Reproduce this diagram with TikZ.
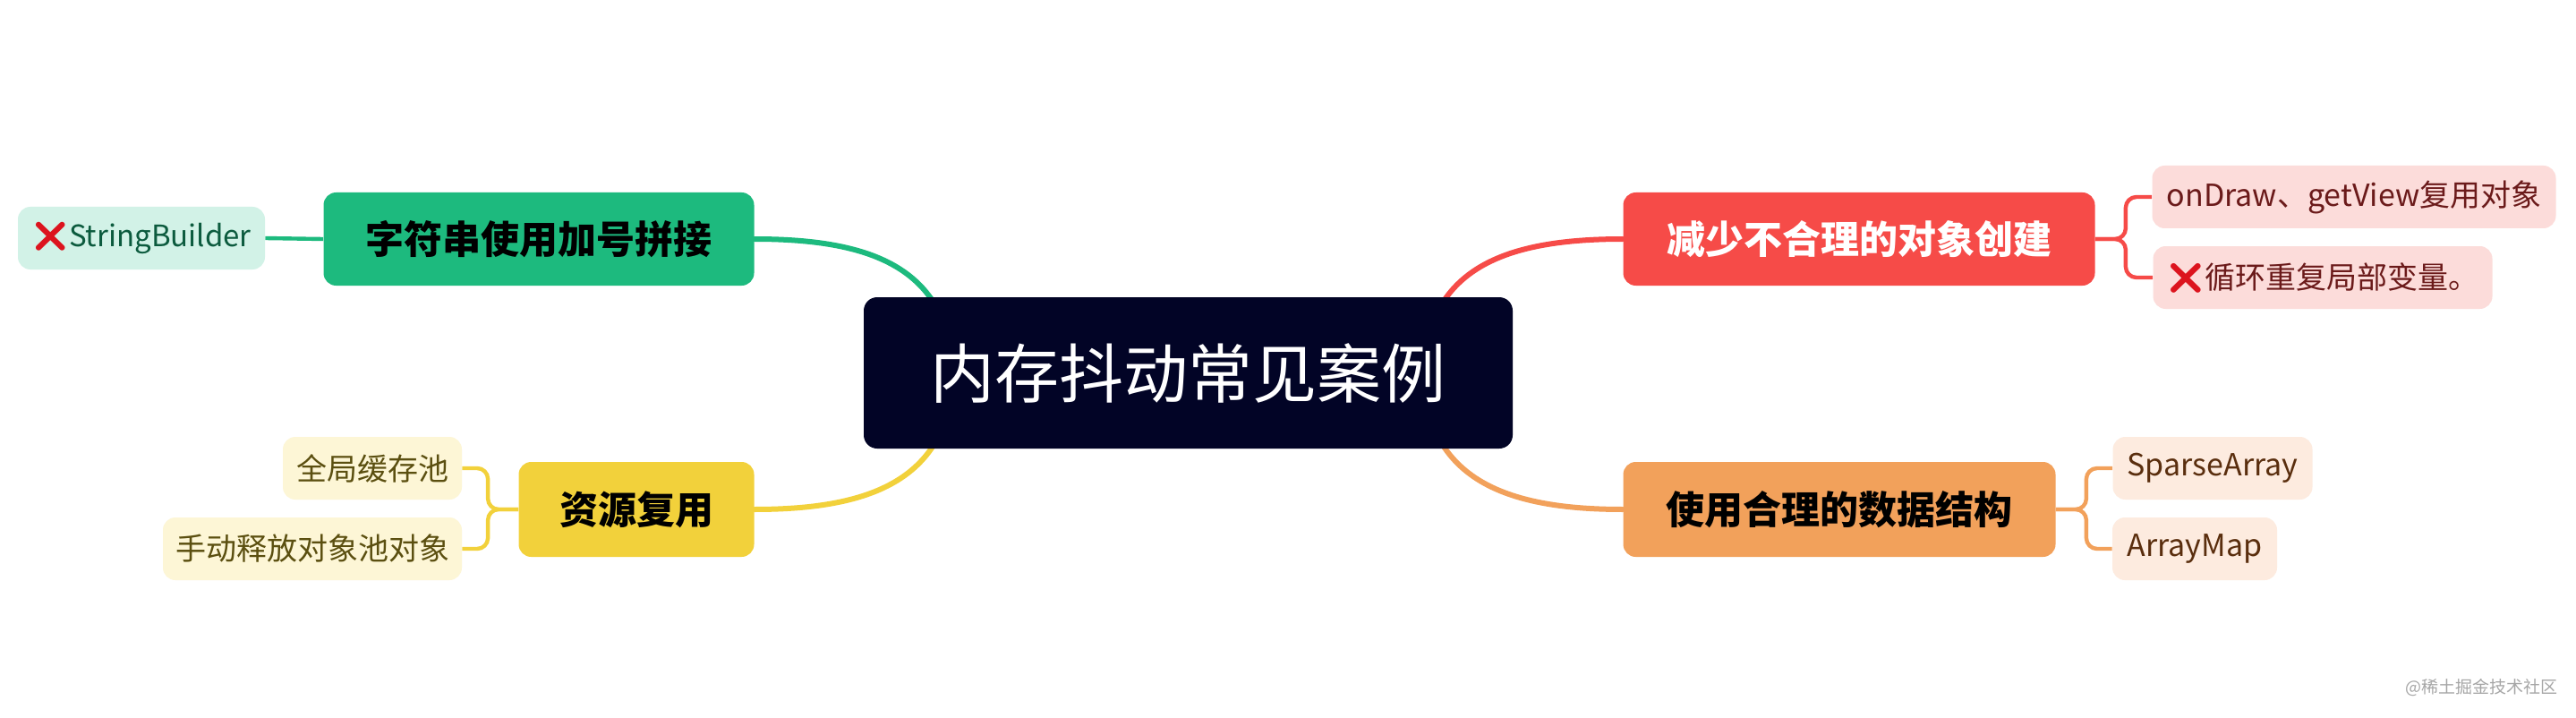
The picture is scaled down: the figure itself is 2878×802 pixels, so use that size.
\documentclass[tikz,border=0pt]{standalone}
\usepackage{fontspec}
\setmainfont{Noto Sans CJK SC}
\newfontfamily\emojifont{Noto Emoji}
\usetikzlibrary{backgrounds}
\pgfdeclarelayer{canvas}
\pgfsetlayers{canvas,background,main}
\definecolor{cnavy}{RGB}{2,4,38}
\definecolor{cgreen}{RGB}{29,186,126}
\definecolor{cgreenL}{RGB}{210,242,231}
\definecolor{cgreenT}{RGB}{12,91,62}
\definecolor{cyellow}{RGB}{242,209,59}
\definecolor{cyellowL}{RGB}{253,246,214}
\definecolor{cyellowT}{RGB}{91,79,16}
\definecolor{cred}{RGB}{246,75,72}
\definecolor{credL}{RGB}{252,220,218}
\definecolor{credT}{RGB}{107,26,26}
\definecolor{corange}{RGB}{242,161,91}
\definecolor{corangeL}{RGB}{253,235,223}
\definecolor{corangeT}{RGB}{90,46,14}
\definecolor{cxmark}{RGB}{220,20,30}
\newcommand{\xmark}{{\emojifont\color{cxmark}❌}}
\tikzset{
  rootbox/.style={fill=cnavy, rounded corners=7.5pt, inner sep=0pt, text=white, font=\fontsize{36}{40}\selectfont, minimum width=362.5pt, minimum height=84.5pt},
  mainbox/.style={rounded corners=7pt, inner sep=0pt, font=\fontsize{21.5}{24}\selectfont\bfseries, minimum height=52pt},
  leafbox/.style={rounded corners=7pt, inner sep=0pt, font=\fontsize{17}{19}\selectfont, minimum height=35pt},
  mainline/.style={line width=3pt, line cap=round},
  leafline/.style={line width=2.2pt, rounded corners=6pt},
}
\begin{document}
\begin{tikzpicture}[x=0.5pt,y=-0.5pt]
\begin{pgfonlayer}{canvas}
\fill[white] (0,0) rectangle (2878,802);
\end{pgfonlayer}
\useasboundingbox (0,0) rectangle (2878,802);
% root
\node[rootbox] (root) at (1327.5,416.5) {内存抖动常见案例};
% main branches
\node[mainbox, fill=cgreen, text=black, minimum width=240.5pt] (g) at (602,267) {字符串使用加号拼接};
\node[mainbox, fill=cyellow, text=black, minimum width=131.5pt, minimum height=53pt] (y) at (711,569) {资源复用};
\node[mainbox, fill=cred, text=white, minimum width=263.5pt] (r) at (2077,267) {减少不合理的对象创建};
\node[mainbox, fill=corange, text=black, minimum width=241.5pt, minimum height=53pt] (o) at (2055,569) {使用合理的数据结构};
% leaves
\node[leafbox, fill=cgreenL, text=cgreenT, minimum width=138pt, font=\fontsize{16.5}{19}\selectfont] (g1) at (158,266) {\xmark StringBuilder};
\node[leafbox, fill=cyellowL, text=cyellowT, minimum width=100pt] (y1) at (416,523) {全局缓存池};
\node[leafbox, fill=cyellowL, text=cyellowT, minimum width=167pt] (y2) at (349,613) {手动释放对象池对象};
\node[leafbox, fill=credL, text=credT, minimum width=225.5pt] (r1) at (2630,220) {onDraw、getView复用对象};
\node[leafbox, fill=credL, text=credT, minimum width=189.5pt] (r2) at (2595,310) {\xmark 循环重复局部变量。};
\node[leafbox, fill=corangeL, text=corangeT, minimum width=111.5pt] (o1) at (2472,523) {SparseArray};
\node[leafbox, fill=corangeL, text=corangeT, minimum width=92pt] (o2) at (2452,613) {ArrayMap};
% watermark
\node[text=gray!70, font=\fontsize{9.5}{11}\selectfont, anchor=east, inner sep=0pt] (wm) at (2858,768) {@稀土掘金技术社区};
% connectors
\begin{pgfonlayer}{background}
\coordinate (rg) at (1050,350);
\coordinate (rr) at (1605,350);
\coordinate (ry) at (1050,485);
\coordinate (ro) at (1605,485);
\draw[mainline, cgreen] (g.east) .. controls +(110,0) and +(-30,-60) .. (rg);
\draw[mainline, cred] (r.west) .. controls +(-110,0) and +(30,-60) .. (rr);
\draw[mainline, cyellow] (y.east) .. controls +(110,0) and +(-30,60) .. (ry);
\draw[mainline, corange] (o.west) .. controls +(-110,0) and +(30,60) .. (ro);
\draw[leafline, cgreen] (g.west) -- (g1.east);
\draw[leafline, cyellow] (y.west) -- ++(-34,0) |- (y1.east);
\draw[leafline, cyellow] (y.west) -- ++(-34,0) |- (y2.east);
\draw[leafline, cred] (r.east) -- ++(34,0) |- (r1.west);
\draw[leafline, cred] (r.east) -- ++(34,0) |- (r2.west);
\draw[leafline, corange] (o.east) -- ++(34,0) |- (o1.west);
\draw[leafline, corange] (o.east) -- ++(34,0) |- (o2.west);
\end{pgfonlayer}
\end{tikzpicture}
\end{document}
